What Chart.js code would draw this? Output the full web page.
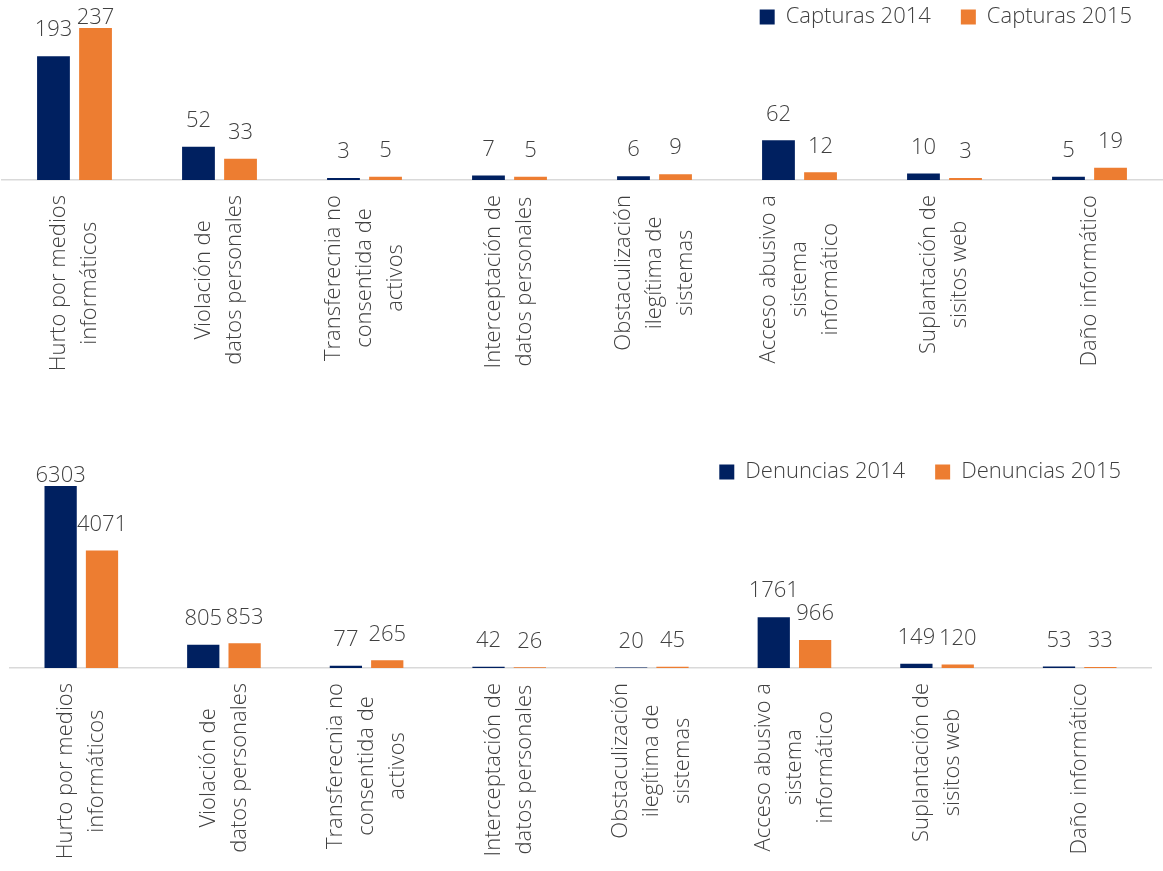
<!DOCTYPE html>
<html>
<head>
<meta charset="utf-8">
<script src="https://cdn.jsdelivr.net/npm/chart.js@4.4.0/dist/chart.umd.min.js"></script>
<style>
    html, body { margin: 0; padding: 0; background: #fff; }
    .chart-box { position: relative; width: 1163px; }
    #capturasBox { height: 435px; }
    #denunciasBox { height: 436px; }
</style>
</head>
<body>
<div class="chart-box" id="capturasBox"><canvas id="capturasChart"></canvas></div>
<div class="chart-box" id="denunciasBox"><canvas id="denunciasChart"></canvas></div>
<script>
// category labels, one array of lines per category
const categories = [
    ['Hurto por medios', 'informáticos'],
    ['Violación de', 'datos personales'],
    ['Transferecnia no', 'consentida de', 'activos'],
    ['Interceptación de', 'datos personales'],
    ['Obstaculización', 'ilegítima de', 'sistemas'],
    ['Acceso abusivo a', 'sistema', 'informático'],
    ['Suplantación de', 'sisitos web'],
    ['Daño informático']
];

const capturas2014 = [193, 52, 3, 7, 6, 62, 10, 5];
const capturas2015 = [237, 33, 5, 5, 9, 12, 3, 19];
const denuncias2014 = [6303, 805, 77, 42, 20, 1761, 149, 53];
const denuncias2015 = [4071, 853, 265, 26, 45, 966, 120, 33];

const NAVY = '#002060';
const ORANGE = '#ED7D31';
const TEXT = '#404040';
const FONT = '"Open Sans", sans-serif';
const LIGHT = '300 22px ' + FONT;

// shrink the legend box so the bars can start right under the legend row
const legendHeight = {
    id: 'legendHeight',
    beforeInit(chart, args, opts) {
        const fit = chart.legend.fit;
        chart.legend.fit = function () {
            fit.call(this);
            this.height = opts.height;
        };
    }
};

// value labels above the bars
const valueLabels = {
    id: 'valueLabels',
    afterDatasetsDraw(chart) {
        const ctx = chart.ctx;
        const top = chart.chartArea.top;
        ctx.save();
        ctx.font = LIGHT;
        ctx.fillStyle = TEXT;
        ctx.textAlign = 'center';
        ctx.textBaseline = 'middle';
        chart.data.datasets.forEach((ds, i) => {
            chart.getDatasetMeta(i).data.forEach((bar, j) => {
                const y = Math.max(bar.y - 26, top - 10);
                ctx.fillText(String(ds.data[j]), bar.x, y);
            });
        });
        ctx.restore();
    }
};

// vertical category labels, lines centred on each other
const categoryLabels = {
    id: 'categoryLabels',
    afterDraw(chart) {
        const ctx = chart.ctx;
        const xScale = chart.scales.x;
        const base = chart.chartArea.bottom;
        const lineH = 31;
        ctx.save();
        ctx.font = LIGHT;
        ctx.fillStyle = TEXT;
        ctx.textAlign = 'center';
        ctx.textBaseline = 'middle';
        chart.data.labels.forEach((lines, i) => {
            const x = xScale.getPixelForValue(i);
            const maxW = Math.max(...lines.map(l => ctx.measureText(l).width));
            ctx.save();
            ctx.translate(x, base);
            ctx.rotate(-Math.PI / 2);
            lines.forEach((line, k) => {
                ctx.fillText(line, -(15 + maxW / 2), (k - (lines.length - 1) / 2) * lineH);
            });
            ctx.restore();
        });
        ctx.restore();
    }
};

function makeChart(canvasId, label14, label15, data14, data15, layout) {
    return new Chart(document.getElementById(canvasId), {
        type: 'bar',
        data: {
            labels: categories,
            datasets: [
                { label: label14, data: data14, backgroundColor: NAVY },
                { label: label15, data: data15, backgroundColor: ORANGE }
            ]
        },
        options: {
            responsive: true,
            maintainAspectRatio: false,
            animation: false,
            categoryPercentage: 0.58,
            barPercentage: 0.78,
            layout: { padding: layout.padding },
            plugins: {
                tooltip: { enabled: false },
                legendHeight: { height: layout.legendHeight },
                legend: {
                    position: 'top',
                    align: 'end',
                    labels: {
                        boxWidth: 15,
                        boxHeight: 15,
                        padding: 30,
                        color: TEXT,
                        font: { family: FONT, size: 22, weight: '300' }
                    }
                }
            },
            scales: {
                x: {
                    grid: { display: false, drawTicks: false },
                    border: { display: true, color: '#D9D9D9', width: 1.5 },
                    ticks: { display: false }
                },
                y: {
                    display: false,
                    min: 0,
                    max: Math.max(...data14, ...data15)
                }
            }
        },
        plugins: [legendHeight, valueLabels, categoryLabels]
    });
}

makeChart('capturasChart', 'Capturas 2014', 'Capturas 2015', capturas2014, capturas2015, {
    padding: { top: -24, left: 2, right: 1, bottom: 255 },
    legendHeight: 52
});

makeChart('denunciasChart', 'Denuncias 2014', 'Denuncias 2015', denuncias2014, denuncias2015, {
    padding: { top: -4, left: 10, right: 12, bottom: 203 },
    legendHeight: 55
});
</script>
</body>
</html>
